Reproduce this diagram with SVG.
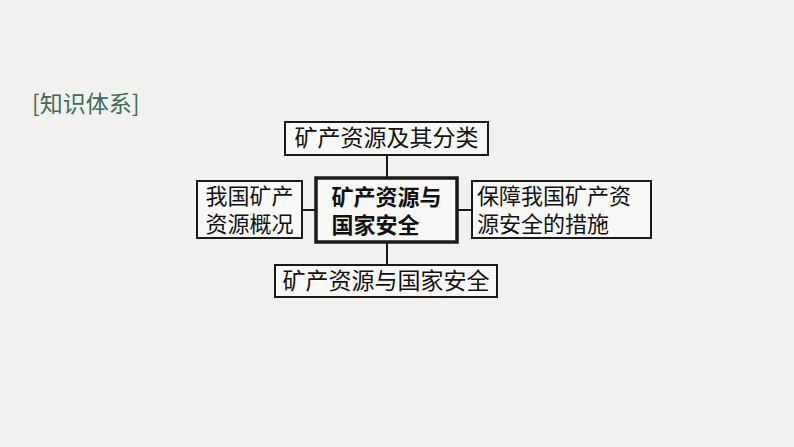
<svg xmlns="http://www.w3.org/2000/svg" width="794" height="447" viewBox="0 0 794 447">
<style>
.box{fill:#f8f8f7;stroke:#1a1a1a;stroke-width:2}
.main{fill:#f8f8f7;stroke:#1a1a1a;stroke-width:3.5}
.t{font-family:"Noto Sans CJK SC","Noto Sans",sans-serif;font-size:23px;fill:#111}
.m{font-size:22px}
.b{font-weight:bold}
.line{stroke:#1a1a1a;stroke-width:2;fill:none}
</style>
<rect width="794" height="447" fill="#f1f1f0"/>
<text x="32" y="112" font-family="&quot;Noto Sans CJK SC&quot;,&quot;Noto Sans&quot;,sans-serif" font-size="23" fill="#3b6e55">[知识体系]</text>
<g id="connectors">
<line class="line" x1="387" y1="155" x2="387" y2="178"/>
<line class="line" x1="387" y1="242" x2="387" y2="265"/>
<line class="line" x1="302" y1="210" x2="316" y2="210"/>
<line class="line" x1="457" y1="210" x2="472" y2="210"/>
</g>
<g id="top">
<rect class="box" x="285" y="122" width="203" height="33"/>
<text class="t" x="386.5" y="146" text-anchor="middle">矿产资源及其分类</text>
</g>
<g id="left">
<rect class="box" x="197" y="181" width="105" height="57"/>
<text class="t m" text-anchor="middle"><tspan x="249.5" y="204">我国矿产</tspan><tspan x="249.5" y="232">资源概况</tspan></text>
</g>
<g id="center">
<rect class="main" x="316" y="178" width="141" height="64"/>
<text class="t m b"><tspan x="331.5" y="205">矿产资源与</tspan><tspan x="331.5" y="233">国家安全</tspan></text>
</g>
<g id="right">
<rect class="box" x="472" y="181" width="179" height="57"/>
<text class="t m"><tspan x="477" y="204">保障我国矿产资</tspan><tspan x="477" y="232">源安全的措施</tspan></text>
</g>
<g id="bottom">
<rect class="box" x="275" y="265" width="222" height="32"/>
<text class="t" x="386" y="289" text-anchor="middle">矿产资源与国家安全</text>
</g>
</svg>
